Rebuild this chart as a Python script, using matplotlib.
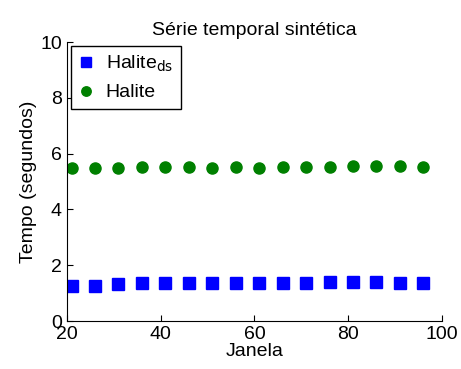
import matplotlib.pyplot as plt

plt.rcParams['font.family'] = ['Liberation Sans', 'DejaVu Sans']

janela = [21, 26, 31, 36, 41, 46, 51, 56, 61, 66, 71, 76, 81, 86, 91, 96]
halite_ds = [1.25, 1.25, 1.32, 1.37, 1.35, 1.35, 1.37, 1.37, 1.37, 1.35, 1.37, 1.41, 1.41, 1.41, 1.37, 1.37]
halite = [5.48, 5.48, 5.48, 5.52, 5.52, 5.52, 5.48, 5.52, 5.48, 5.52, 5.52, 5.52, 5.56, 5.56, 5.56, 5.51]

fig = plt.figure(figsize=(4.61, 3.69), dpi=100)
ax = fig.add_axes([0.145, 0.130, 0.814, 0.756])

ax.plot(janela, halite_ds, 's', color='#0000ff', markersize=8, label='Halite$_{\\mathrm{ds}}$')
ax.plot(janela, halite, 'o', color='#008000', markersize=8, label='Halite')

ax.set_xlim(20, 100)
ax.set_ylim(0, 10)
ax.set_xticks([20, 40, 60, 80, 100])
ax.set_yticks([0, 2, 4, 6, 8, 10])
ax.tick_params(direction='in', labelsize=14, length=4)
ax.spines['top'].set_visible(False)
ax.spines['right'].set_visible(False)

ax.set_xlabel('Janela', fontsize=14, labelpad=0)
ax.set_ylabel('Tempo (segundos)', fontsize=14, labelpad=2)
ax.set_title('Série temporal sintética', fontsize=14, pad=5)

leg = ax.legend(loc='upper left', fontsize=14, fancybox=False, edgecolor='black',
                framealpha=1, handletextpad=0.6, handlelength=0.8, markerscale=0.85,
                borderaxespad=0.2, borderpad=0.4)
leg.get_frame().set_linewidth(1)

fig.savefig('out.png', dpi=100)
